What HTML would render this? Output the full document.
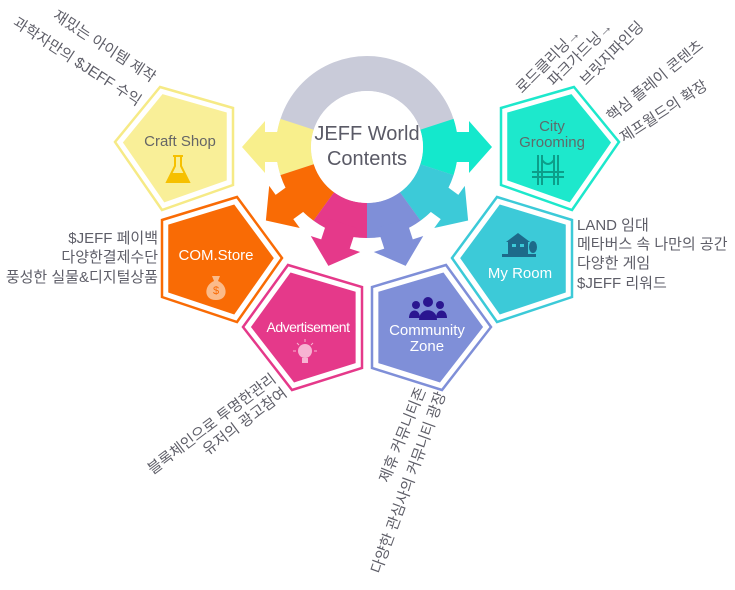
<!DOCTYPE html>
<html><head><meta charset="utf-8"><style>
html,body{margin:0;padding:0;background:#fff;}
svg{display:block;}
text{font-family:"Liberation Sans","Noto Sans CJK KR",sans-serif;}
.g{fill:#5e5e68;font-size:15px;}
</style></head><body>
<svg width="735" height="590" viewBox="0 0 735 590" xmlns="http://www.w3.org/2000/svg">
<defs>
<path id="sec" d="M53.26,-17.30 L86.55,-28.12 A91,91 0 0 1 86.55,28.12 L53.26,17.30 A56,56 0 0 0 53.26,-17.30Z"/>
<polygon id="arr" points="80,-15 102,-15 102,-26 125,0 102,26 102,15 80,15"/>
</defs>

<!-- ring -->
<g transform="translate(367,147)">
<circle r="73.5" fill="none" stroke="#c9cbd9" stroke-width="35"/>
<g fill="#f8ef8c" transform="rotate(180)"><use href="#sec"/><use href="#arr"/></g>
<g fill="#14e8cc" transform="rotate(0)"><use href="#sec"/><use href="#arr"/></g>
<g fill="#f96b05" transform="rotate(144)"><use href="#sec"/><use href="#arr"/></g>
<g fill="#3ccad8" transform="rotate(36)"><use href="#sec"/><use href="#arr"/></g>
<g fill="#e5398a" transform="rotate(108)"><use href="#sec"/><use href="#arr"/></g>
<g fill="#7f8fd8" transform="rotate(72)"><use href="#sec"/><use href="#arr"/></g>
<circle r="56" fill="#fff"/>
<text x="0" y="-7" text-anchor="middle" font-size="20" fill="#5a5a66">JEFF World</text>
<text x="0" y="18" text-anchor="middle" font-size="20" fill="#5a5a66">Contents</text>
</g>

<!-- Craft Shop -->
<polygon points="160,87 233,108 233,185 162,210 115,142" fill="#fff" stroke="#f6ea86" stroke-width="2.5"/>
<polygon points="160,87 233,108 233,185 162,210 115,142" fill="#f9ef98" transform="translate(181,146) scale(0.88) translate(-181,-146)"/>
<text x="180" y="146" text-anchor="middle" font-size="15" fill="#666">Craft Shop</text>
<g transform="translate(178,170)" fill="none" stroke="#f6c000" stroke-width="2">
<path d="M-5,-14 L5,-14 M-3,-14 L-3,-4 L-11,12 L11,12 L3,-4 L3,-14"/>
<path d="M-7,3 L7,3 L10,11 L-10,11Z" fill="#f6c000" stroke="none"/>
</g>

<!-- City Grooming -->
<polygon points="574,87 501,108 501,185 572,210 619,142" fill="#fff" stroke="#1de8cc" stroke-width="2.5"/>
<polygon points="574,87 501,108 501,185 572,210 619,142" fill="#1de8cc" transform="translate(553,146) scale(0.88) translate(-553,-146)"/>
<text x="552" y="131" text-anchor="middle" font-size="15" fill="#5e6a6a">City</text>
<text x="552" y="147" text-anchor="middle" font-size="15" fill="#5e6a6a">Grooming</text>
<g transform="translate(548,170)" fill="none" stroke="#0c9e8a" stroke-width="2">
<path d="M-10,-15 V15 M-6,-15 V15 M6,-15 V15 M10,-15 V15 M-16,2 H16 M-16,7 H16 M-6,-10 Q0,-2 6,-10"/>
</g>

<!-- COM.Store -->
<polygon points="162,220 237,197 282,258 237,322 162,297" fill="#fff" stroke="#f96b05" stroke-width="2.5"/>
<polygon points="162,220 237,197 282,258 237,322 162,297" fill="#f96b05" transform="translate(214,259) scale(0.88) translate(-214,-259)"/>
<text x="216" y="260" text-anchor="middle" font-size="15" fill="#fff">COM.Store</text>
<g transform="translate(216,288)">
<path d="M-4,-12 L4,-12 L2,-7 C12,-3 13,12 0,12 C-13,12 -12,-3 -2,-7Z" fill="#fbbb8a"/>
<text x="0" y="6" text-anchor="middle" font-size="11" fill="#f96b05">$</text>
</g>

<!-- My Room -->
<polygon points="572,220 497,197 452,258 497,322 572,297" fill="#fff" stroke="#3ccad8" stroke-width="2.5"/>
<polygon points="572,220 497,197 452,258 497,322 572,297" fill="#3ccad8" transform="translate(520,259) scale(0.88) translate(-520,-259)"/>
<g transform="translate(518,245)" fill="#1d6a8a">
<path d="M-12,-3 L0,-12 L12,-3 L10,-3 L10,10 L-10,10 L-10,-3Z"/>
<rect x="-6" y="-1" width="4" height="3" fill="#3ccad8"/><rect x="2" y="-1" width="4" height="3" fill="#3ccad8"/>
<ellipse cx="15" cy="2" rx="4" ry="6"/><rect x="-16" y="9" width="34" height="3"/>
</g>
<text x="520" y="278" text-anchor="middle" font-size="15" fill="#fff">My Room</text>

<!-- Advertisement -->
<polygon points="288,265 362,287 362,368 292,390 243,327" fill="#fff" stroke="#e5398a" stroke-width="2.5"/>
<polygon points="288,265 362,287 362,368 292,390 243,327" fill="#e5398a" transform="translate(309,327) scale(0.88) translate(-309,-327)"/>
<text x="308" y="332" text-anchor="middle" font-size="14" fill="#fff" letter-spacing="-0.5">Advertisement</text>
<g transform="translate(305,353)">
<circle cx="0" cy="-2" r="7" fill="#f7b3d2"/><rect x="-3" y="5" width="6" height="5" fill="#f7b3d2"/>
<path d="M-12,-2 H-9 M9,-2 H12 M-8,-10 L-6,-8 M8,-10 L6,-8 M0,-14 V-11" stroke="#f7b3d2" stroke-width="1"/>
</g>

<!-- Community Zone -->
<polygon points="446,265 372,287 372,368 442,390 491,327" fill="#fff" stroke="#7f8fd8" stroke-width="2.5"/>
<polygon points="446,265 372,287 372,368 442,390 491,327" fill="#7f8fd8" transform="translate(425,327) scale(0.88) translate(-425,-327)"/>
<g transform="translate(428,310)" fill="#2a1690">
<circle cx="0" cy="-8" r="5"/><circle cx="-12" cy="-5" r="4"/><circle cx="12" cy="-5" r="4"/>
<path d="M-9,10 C-9,-3 9,-3 9,10Z"/><path d="M-19,8 C-19,-2 -8,-2 -8,8Z"/><path d="M8,8 C8,-2 19,-2 19,8Z"/>
</g>
<text x="427" y="335" text-anchor="middle" font-size="15" fill="#fff">Community</text>
<text x="427" y="351" text-anchor="middle" font-size="15" fill="#fff">Zone</text>

<!-- labels -->
<text class="g" transform="translate(52,18) rotate(33)">재밌는 아이템 제작</text>
<text class="g" transform="translate(12,25) rotate(33)">과학자만의 $JEFF 수익</text>

<text class="g" font-size="14" transform="translate(522,94) rotate(-45)">로드클리닝→</text>
<text class="g" font-size="14" transform="translate(554,87) rotate(-45)">파크가드닝→</text>
<text class="g" font-size="14" transform="translate(586,86) rotate(-45)">브릿지파인딩</text>
<text class="g" transform="translate(612,122) rotate(-39)">핵심 플레이 콘텐츠</text>
<text class="g" transform="translate(624,143) rotate(-33)">제프월드의 확장</text>

<text class="g" x="158" y="243" text-anchor="end">$JEFF 페이백</text>
<text class="g" x="158" y="262" text-anchor="end">다양한결제수단</text>
<text class="g" x="158" y="282" text-anchor="end">풍성한 실물&amp;디지털상품</text>

<text class="g" x="577" y="230">LAND 임대</text>
<text class="g" x="577" y="249">메타버스 속 나만의 공간</text>
<text class="g" x="577" y="268">다양한 게임</text>
<text class="g" x="577" y="288">$JEFF 리워드</text>

<text class="g" text-anchor="end" transform="translate(277,381) rotate(-37)">블록체인으로 투명한관리</text>
<text class="g" text-anchor="end" transform="translate(288,395) rotate(-37)">유저의 광고참여</text>

<text class="g" text-anchor="end" transform="translate(426,390) rotate(-68)">제휴 커뮤니티존</text>
<text class="g" text-anchor="end" transform="translate(446,394) rotate(-70)">다양한 관심사의 커뮤니티 광장</text>
</svg>
</body></html>
